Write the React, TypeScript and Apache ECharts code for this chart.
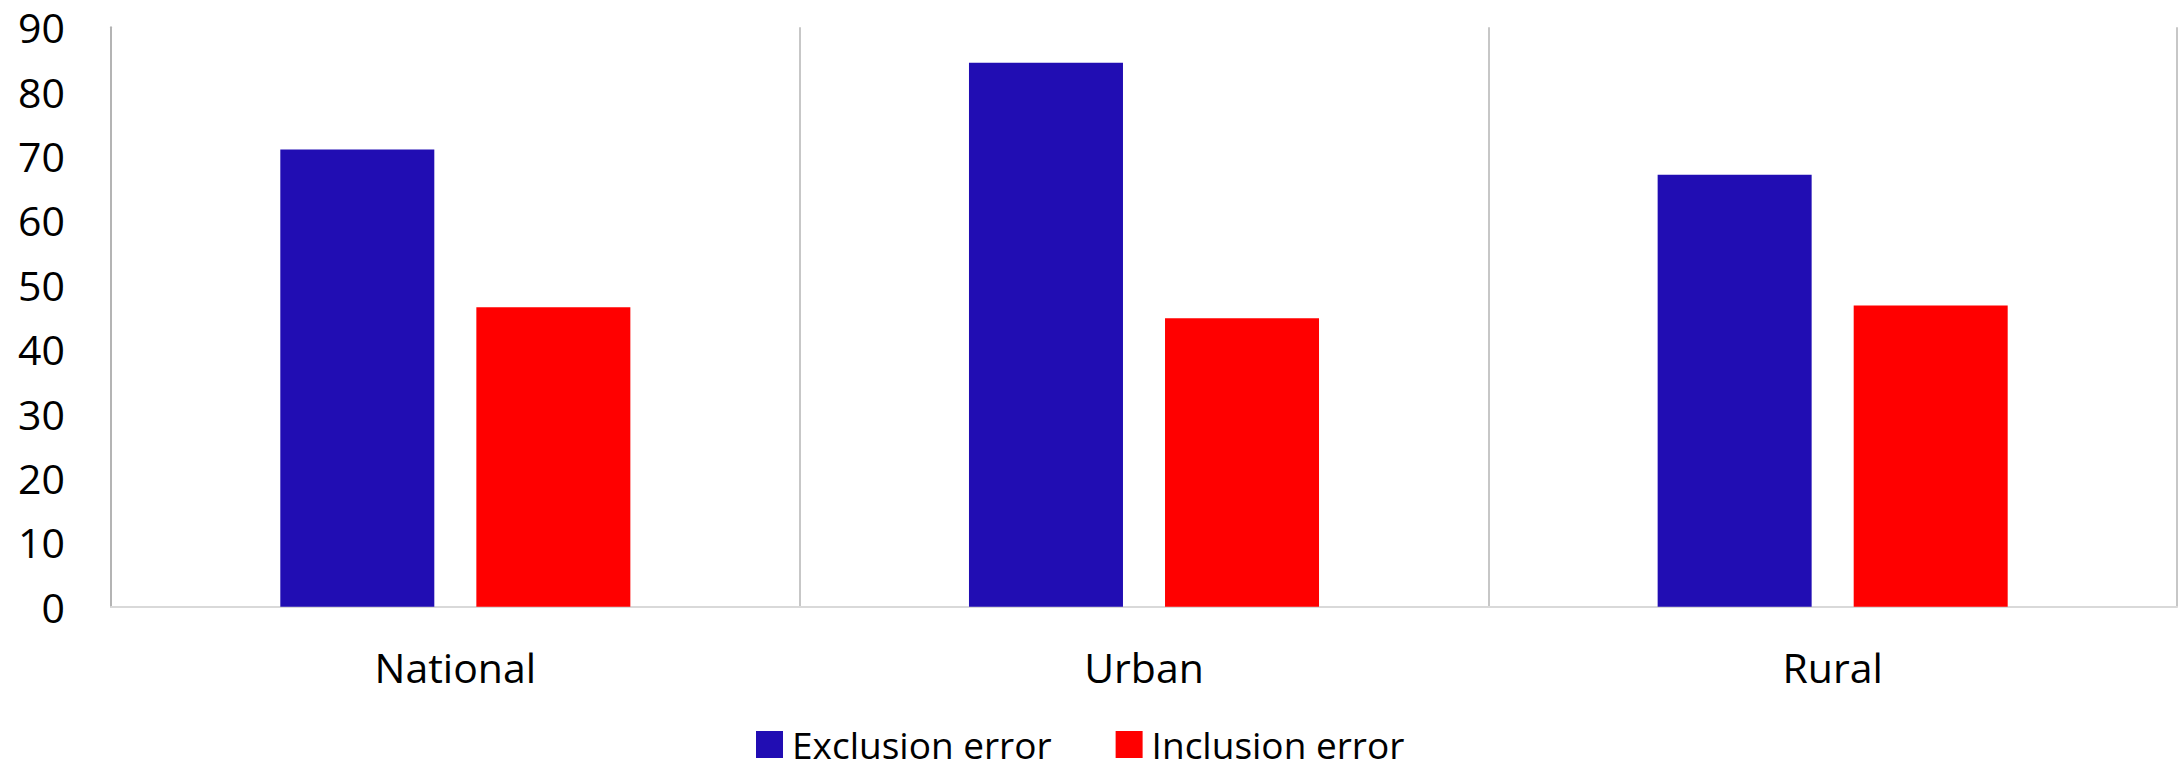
import React, { useEffect, useRef } from "react";
import * as echarts from "echarts";

const categories = ["National", "Urban", "Rural"];
const exclusionError = [71.0, 84.5, 67.1];
const inclusionError = [46.5, 44.8, 46.8];
const seriesNames = ["Exclusion error", "Inclusion error"];
const yTicks = { min: 0, max: 90, interval: 10 };

const FONT = "'Open Sans', 'Noto Sans', sans-serif";

export default function App() {
  const ref = useRef<HTMLDivElement>(null);

  useEffect(() => {
    if (!ref.current) return;
    const chart = echarts.init(ref.current, undefined, { renderer: "svg" });
    chart.setOption({
      animation: false,
      backgroundColor: "#ffffff",
      grid: { left: 111, right: 4, top: 27.3, bottom: 163.3, containLabel: false },
      legend: {
        data: seriesNames,
        left: 756,
        top: 726,
        padding: 0,
        itemWidth: 27,
        itemHeight: 27,
        itemGap: 64,
        icon: "rect",
        textStyle: {
          fontFamily: FONT,
          fontSize: 37,
          lineHeight: 37,
          color: "#000",
          padding: [0, 0, 0, 4],
        },
      },
      xAxis: {
        type: "category",
        data: categories,
        axisLine: { show: true, lineStyle: { color: "#d9d9d9", width: 2 } },
        axisTick: { show: false },
        splitLine: { show: true, interval: 0, lineStyle: { color: "#b4b4b4", width: 1.5 } },
        axisLabel: { fontFamily: FONT, fontSize: 41, color: "#000", margin: 40, lineHeight: 41 },
      },
      yAxis: {
        type: "value",
        min: yTicks.min,
        max: yTicks.max,
        interval: yTicks.interval,
        axisLine: { show: true, lineStyle: { color: "#b4b4b4", width: 2 } },
        axisTick: { show: false },
        splitLine: { show: false },
        axisLabel: { fontFamily: FONT, fontSize: 41, lineHeight: 41, color: "#000", margin: 46 },
      },
      series: [
        {
          name: seriesNames[0],
          type: "bar",
          data: exclusionError,
          barWidth: 154,
          barGap: "27.3%",
          itemStyle: { color: "#210db3" },
        },
        {
          name: seriesNames[1],
          type: "bar",
          data: inclusionError,
          barWidth: 154,
          barGap: "27.3%",
          itemStyle: { color: "#ff0000" },
        },
      ],
    });
    return () => chart.dispose();
  }, []);

  return (
    <div
      ref={ref}
      style={{ position: "fixed", left: 0, top: 0, width: 2181, height: 770, background: "#fff" }}
    />
  );
}
